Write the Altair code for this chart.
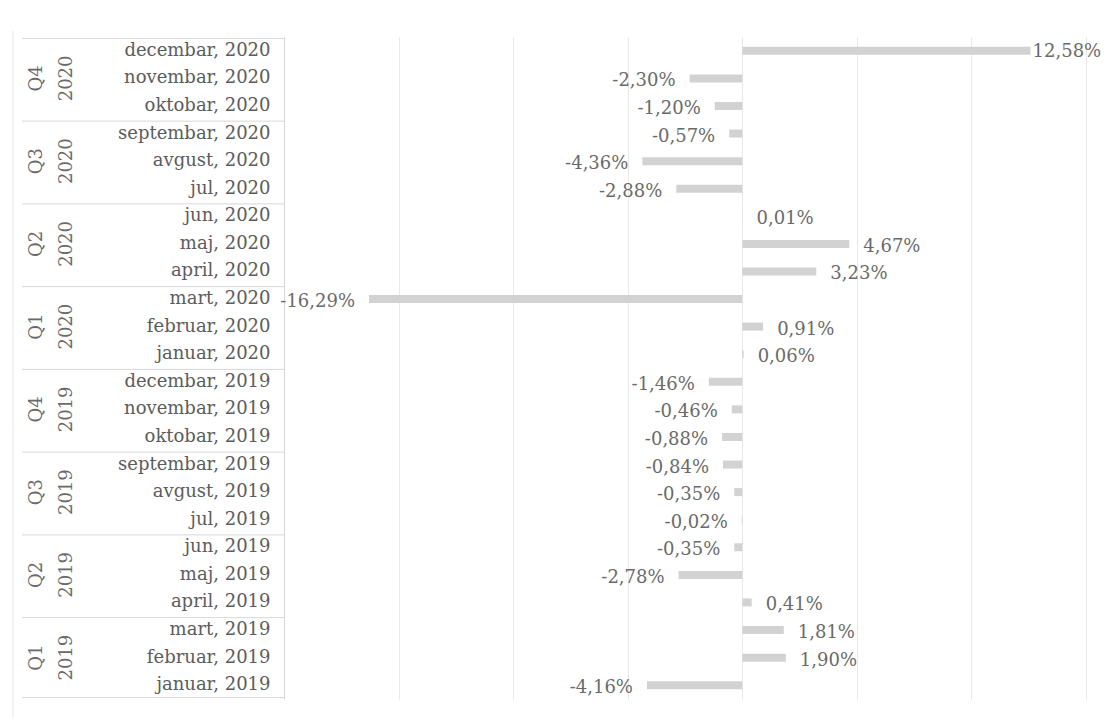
import altair as alt
import pandas as pd

months = [
    "decembar, 2020", "novembar, 2020", "oktobar, 2020",
    "septembar, 2020", "avgust, 2020", "jul, 2020",
    "jun, 2020", "maj, 2020", "april, 2020",
    "mart, 2020", "februar, 2020", "januar, 2020",
    "decembar, 2019", "novembar, 2019", "oktobar, 2019",
    "septembar, 2019", "avgust, 2019", "jul, 2019",
    "jun, 2019", "maj, 2019", "april, 2019",
    "mart, 2019", "februar, 2019", "januar, 2019",
]
values = [
    12.58, -2.30, -1.20,
    -0.57, -4.36, -2.88,
    0.01, 4.67, 3.23,
    -16.29, 0.91, 0.06,
    -1.46, -0.46, -0.88,
    -0.84, -0.35, -0.02,
    -0.35, -2.78, 0.41,
    1.81, 1.90, -4.16,
]
quarter_labels = ["Q4\n2020", "Q3\n2020", "Q2\n2020", "Q1\n2020",
                  "Q4\n2019", "Q3\n2019", "Q2\n2019", "Q1\n2019"]
grid_values = [-20, -15, -10, -5, 0, 5, 10, 15]

FONT = "DejaVu Serif"
LEFT = 276

df = pd.DataFrame({"month": months, "value": values})
df["label"] = [f"{v:.2f}".replace(".", ",") + "%" for v in values]

qdf = pd.DataFrame({
    "quarter": quarter_labels,
    "mid": [months[i * 3 + 1] for i in range(len(quarter_labels))],
    "first": [months[i * 3] for i in range(len(quarter_labels))],
})
last_df = pd.DataFrame({"month": [months[-1]]})

yscale = alt.Scale(domain=months)

base = alt.Chart(df)

bars = base.mark_bar(size=8, color="#d2d2d2").encode(
    x=alt.X("value:Q",
            scale=alt.Scale(domain=[-20, 15], nice=False, zero=False),
            axis=alt.Axis(values=grid_values, labels=False, ticks=False,
                          domain=False, grid=True, gridColor="#e8e8e8",
                          gridWidth=1, title=None, orient="top")),
    y=alt.Y("month:N", scale=yscale, title=None,
            axis=alt.Axis(labelFont=FONT, labelFontSize=18,
                          labelColor="#5c5c5c", labelPadding=14,
                          ticks=False, domain=True, domainColor="#d6d6d6",
                          grid=False, labelLimit=300)),
)

pos_text = base.transform_filter("datum.value >= 0 && datum.value < 10").mark_text(
    align="left", baseline="middle", dx=14, dy=3,
    font=FONT, fontSize=18, color="#6a6a6a",
).encode(
    x="value:Q",
    y=alt.Y("month:N", scale=yscale),
    text="label:N",
)

big_text = base.transform_filter("datum.value >= 10").mark_text(
    align="left", baseline="middle", dx=2, dy=1,
    font=FONT, fontSize=18, color="#6a6a6a",
).encode(
    x="value:Q",
    y=alt.Y("month:N", scale=yscale),
    text="label:N",
)

neg_text = base.transform_filter("datum.value < 0").mark_text(
    align="right", baseline="middle", dx=-14, dy=3,
    font=FONT, fontSize=18, color="#6a6a6a",
).encode(
    x="value:Q",
    y=alt.Y("month:N", scale=yscale),
    text="label:N",
)

qchart = alt.Chart(qdf)

q_text = qchart.mark_text(
    align="center", baseline="middle", angle=270, lineBreak="\n",
    lineHeight=30, font=FONT, fontSize=18, color="#6a6a6a",
).encode(
    x=alt.value(37 - (LEFT + 8)),
    y=alt.Y("mid:N", scale=yscale),
    text="quarter:N",
)

q_sep = qchart.mark_rule(color="#d8d8d8", strokeWidth=1).encode(
    x=alt.value(22 - (LEFT + 8)),
    x2=alt.value(0),
    y=alt.Y("first:N", scale=yscale, bandPosition=0),
)

bottom_sep = alt.Chart(last_df).mark_rule(color="#d8d8d8", strokeWidth=1).encode(
    x=alt.value(22 - (LEFT + 8)),
    x2=alt.value(0),
    y=alt.Y("month:N", scale=yscale, bandPosition=1),
)

left_border = alt.Chart(last_df).mark_rule(color="#e6e6e6", strokeWidth=1).encode(
    x=alt.value(13 - (LEFT + 8)),
    y=alt.value(-6),
    y2=alt.value(680),
)

chart = alt.layer(
    bars, pos_text, big_text, neg_text, q_sep, bottom_sep, q_text, left_border
).properties(
    width=802,
    height=662,
    background="white",
    autosize=alt.AutoSizeParams(type="none"),
    padding={"left": LEFT, "top": 29, "right": 18, "bottom": 19},
).configure_view(stroke=None)

chart.save("out.html", embed_options={"renderer": "svg", "actions": False})
